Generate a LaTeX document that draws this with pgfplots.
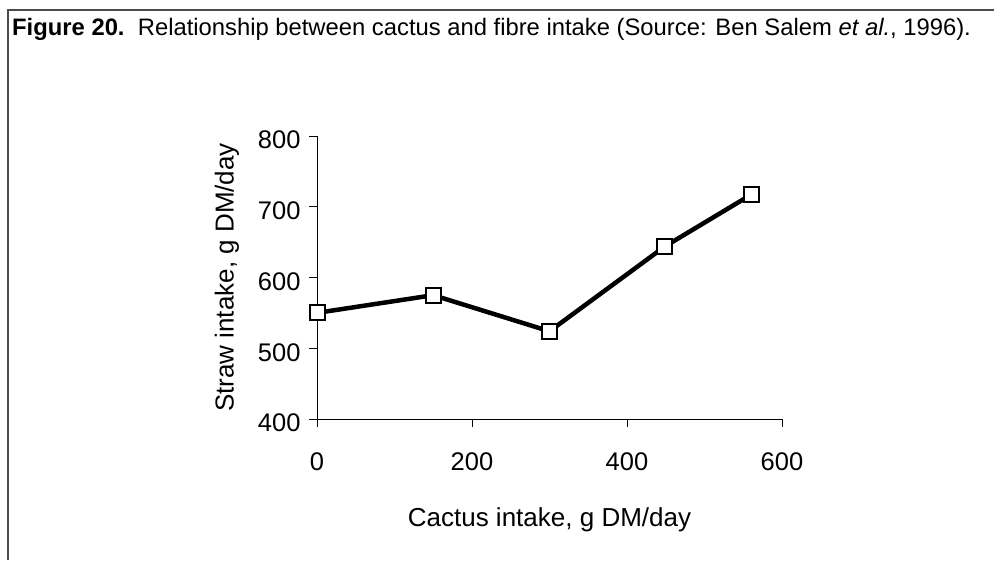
\documentclass[border=0pt]{standalone}
\usepackage{fontspec}
\setmainfont{Liberation Sans}
\usepackage{pgfplots}
\pgfplotsset{compat=1.18}

\begin{document}
\begin{tikzpicture}[x=1pt,y=1pt]
\useasboundingbox (0,0) rectangle (994,560);
% frame (top and left edge only)
\draw[line width=1.5pt,black!70] (8,0) -- (8,550) -- (994,550);
% caption
\node[anchor=base west,inner sep=0pt,font=\fontsize{23.8}{28}\selectfont] at (12,524)
  {\textbf{Figure 20.}\ \ Relationship between cactus and fibre intake (Source: Ben Salem \textit{et al.}, 1996).};
\begin{axis}[
  at={(317pt,141pt)}, anchor=south west,
  scale only axis,
  width=465pt, height=283pt,
  xmin=0, xmax=600, ymin=400, ymax=800,
  xtick={0,200,400,600},
  ytick={400,500,600,700,800},
  axis lines=left,
  axis line style={-,line width=0.8pt},
  tick align=outside,
  major tick length=8pt,
  tick style={line width=0.8pt,black},
  ticklabel style={font=\fontsize{25.5}{30}\selectfont},
  /pgf/number format/assume math mode=true,
  xticklabel shift=22pt,
  yticklabel shift=5pt,
  yticklabel style={yshift=-4pt},
  xlabel={Cactus intake, g DM/day},
  ylabel={Straw intake, g DM/day},
  xlabel style={yshift=-30pt},
  ylabel style={yshift=12pt},
  label style={font=\fontsize{26}{30}\selectfont},
  clip=false,
]
\addplot[
  black, line width=4.5pt,
  mark=square*,
  mark size=7.5pt,
  mark options={fill=white,draw=black,line width=2pt},
  ]
  coordinates {
    (0,550)(150,575)(300,524)(449,644)(560,717)
  };
\end{axis}
\end{tikzpicture}
\end{document}
